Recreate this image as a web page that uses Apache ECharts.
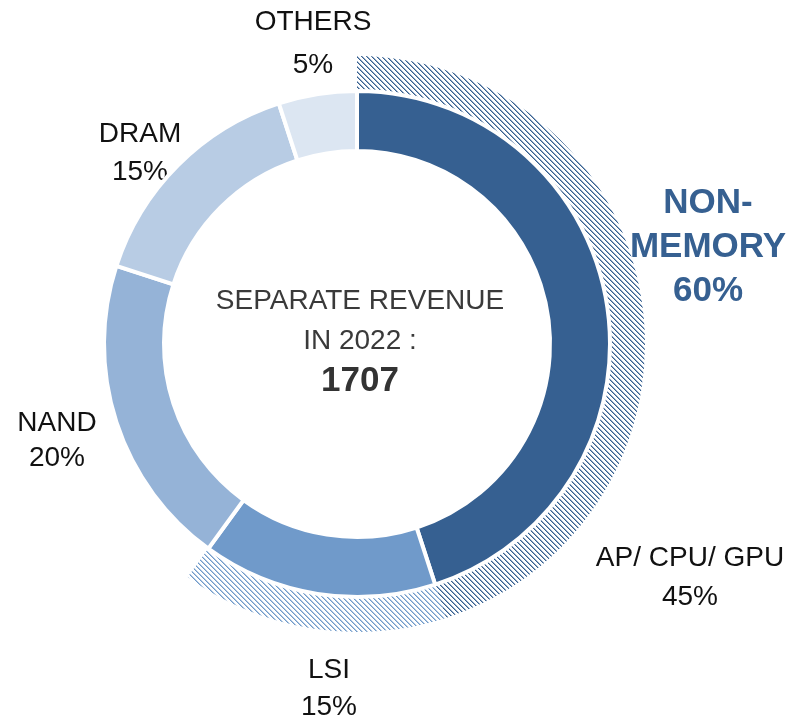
<!DOCTYPE html>
<html>
<head>
<meta charset="utf-8">
<script src="https://cdn.jsdelivr.net/npm/echarts@6/dist/echarts.min.js"></script>
<style>
html,body{margin:0;padding:0;background:#fff;}
#chart{width:795px;height:724px;}
</style>
</head>
<body>
<div id="chart"></div>
<script>
// ---- data ----
const categories = ['AP/ CPU/ GPU', 'LSI', 'NAND', 'DRAM', 'OTHERS'];
const shares = [45, 15, 20, 15, 5];
const nonMemoryCategories = ['AP/ CPU/ GPU', 'LSI'];
const groupLabel = 'NON-\nMEMORY';
const centerLines = ['SEPARATE REVENUE', 'IN 2022 :'];
const centerValue = 1707;

// ---- styles ----
const colors = ['#366091', '#709ACA', '#95B3D7', '#B8CCE4', '#DCE6F2'];
const labelPos = [[690, 578, 39], [329, 689, 37], [57, 441, 35], [140, 153, 38], [313, 44, 43]];
const FONT = '"Liberation Sans", Arial, sans-serif';

function hatch(color) {
  const n = 5;
  const c = document.createElement('canvas');
  c.width = n; c.height = n;
  const g = c.getContext('2d');
  for (let i = 0; i < n; i++) {
    g.globalAlpha = 1;
    g.fillStyle = color;
    g.fillRect(i, i, 1, 1);
    g.globalAlpha = 0.55;
    g.fillRect((i + 1) % n, i, 1, 1);
  }
  return { image: c, repeat: 'repeat' };
}

const nonMemTotal = shares.reduce((s, v, i) => s + (nonMemoryCategories.includes(categories[i]) ? v : 0), 0);
const hatchData = categories.map((c, i) => {
  if (nonMemoryCategories.includes(c)) return { name: c, value: shares[i], itemStyle: { color: hatch(colors[i]) } };
  return null;
}).filter(Boolean);
hatchData.push({ name: 'rest', value: 100 - nonMemTotal, itemStyle: { color: 'rgba(0,0,0,0)' } });

const labelGraphics = categories.map((c, i) => ({
  type: 'text',
  x: labelPos[i][0], y: labelPos[i][1],
  style: {
    text: c + '\n' + shares[i] + '%',
    align: 'center', verticalAlign: 'middle',
    fontFamily: FONT, fontSize: 28, lineHeight: labelPos[i][2], fill: '#111'
  }
}));

const chart = echarts.init(document.getElementById('chart'), null, { renderer: 'canvas' });
chart.setOption({
  animation: false,
  series: [
    {
      type: 'pie',
      silent: true,
      center: [357, 344],
      radius: [250, 288],
      startAngle: 90,
      clockwise: true,
      label: { show: false },
      labelLine: { show: false },
      data: hatchData,
      z: 1
    },
    {
      type: 'pie',
      silent: true,
      center: [357, 344],
      radius: [193, 253],
      startAngle: 90,
      clockwise: true,
      itemStyle: { borderColor: '#fff', borderWidth: 4 },
      label: { show: false },
      labelLine: { show: false },
      data: categories.map((c, i) => ({ name: c, value: shares[i], itemStyle: { color: colors[i] } })),
      z: 2
    }
  ],
  graphic: labelGraphics.concat([
    {
      type: 'text',
      x: 708, y: 247,
      style: {
        text: groupLabel + '\n' + nonMemTotal + '%',
        align: 'center', verticalAlign: 'middle',
        fontFamily: FONT, fontSize: 35, fontWeight: 'bold',
        lineHeight: 44, fill: '#366091'
      }
    },
    {
      type: 'text',
      x: 360, y: 341,
      style: {
        text: '{n|' + centerLines[0] + '}\n{n|' + centerLines[1] + '}\n{b|' + centerValue + '}',
        align: 'center', verticalAlign: 'middle',
        rich: {
          n: { fontFamily: FONT, fontSize: 28, lineHeight: 40, fill: '#3a3a3a', align: 'center' },
          b: { fontFamily: FONT, fontSize: 35, fontWeight: 'bold', lineHeight: 40, fill: '#333', align: 'center' }
        }
      }
    }
  ])
});
</script>
</body>
</html>
